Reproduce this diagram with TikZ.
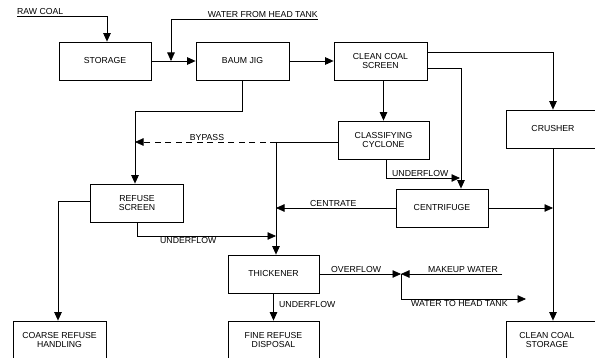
\documentclass[tikz,border=0pt]{standalone}
\usepackage{fontspec}
\setmainfont{Liberation Sans}
\usetikzlibrary{arrows.meta}
\newcommand\lblfont{\fontsize{8.7}{9}\selectfont}
\begin{document}
\begin{tikzpicture}[x=1pt,y=-1pt,
  box/.style={draw, line width=0.8pt, minimum height=38pt, inner sep=0pt, align=center, font=\lblfont},
  flow/.style={line width=0.7pt, -{Triangle[length=8.5pt,width=7.5pt]}},
  plain/.style={line width=0.7pt},
  lbl/.style={font=\lblfont, inner sep=0pt, anchor=base west}]
\clip (0,0) rectangle (595,358);
\fill[white] (0,0) rectangle (595,358);
% boxes
\node[box, minimum width=92pt] (storage) at (105,61) {STORAGE};
\node[box, minimum width=93pt] (baum) at (242.5,61) {BAUM JIG};
\node[box, minimum width=93pt] (ccs) at (380.5,61) {CLEAN COAL\\SCREEN};
\node[box, minimum width=91pt] (cyclone) at (383.5,140) {CLASSIFYING\\CYCLONE};
\node[box, minimum width=94pt] (crusher) at (553,129) {CRUSHER};
\node[box, minimum width=92pt] (centrifuge) at (442,208) {CENTRIFUGE};
\node[box, minimum width=93pt] (refuse) at (137,203) {REFUSE\\SCREEN};
\node[box, minimum width=91pt] (thick) at (273.5,274) {THICKENER};
\node[box, minimum width=93pt] (coarse) at (59.5,340) {COARSE REFUSE\\HANDLING};
\node[box, minimum width=91pt] (fine) at (273.5,340) {FINE REFUSE\\DISPOSAL};
\node[box, minimum width=94pt] (ccstor) at (553,340) {};
\node[font=\lblfont, align=center, inner sep=0pt] (ccstortxt) at (547,340) {CLEAN COAL\\STORAGE};
% coordinates
\coordinate (rc) at (17,16.5);
\coordinate (wt) at (318,19.5);
\coordinate (wjoin) at (171,61);
\coordinate (bj) at (276,142);
\coordinate (bypend) at (135,142);
\coordinate (cu) at (460,178);
\coordinate (ru) at (276,236);
\coordinate (jn) at (401,274);
\coordinate (mw) at (502,274);
\coordinate (wh) at (526,299);
% connectors
\draw[flow] (rc) -| ([xshift=2pt]storage.north);
\draw[flow] (wt) -| (wjoin);
\draw[flow] (storage) -- (baum);
\draw[flow] (baum) -- (ccs);
\draw[flow] (baum.south) -- ++(0,31) -| ([xshift=-2pt]refuse.north);
\draw[flow] (cyclone.north |- ccs.south) -- (cyclone.north);
\draw[flow] ([yshift=9pt]ccs.east) -| (crusher.north);
\draw[flow] ([yshift=-7pt]ccs.east) -| ([xshift=19pt]centrifuge.north);
\draw[plain] ([yshift=-2pt]cyclone.west) -- (bj);
\draw[flow, dash pattern=on 6pt off 4.5pt] (bj) -- (bypend);
\draw[flow] ([xshift=2.5pt]cyclone.south) |- (cu);
\draw[flow] (centrifuge.west) -- (centrifuge.west -| bj);
\draw[flow] (centrifuge.east) -- (centrifuge.east -| crusher.south);
\draw[flow] (crusher.south) -- (ccstor.north);
\draw[flow] (bj) -- (bj |- thick.north);
\draw[flow] (refuse.south) |- (ru);
\draw[flow] ([yshift=2pt]refuse.west) -| ([xshift=-1.5pt]coarse.north);
\draw[flow] (thick.south) -- (fine.north);
\draw[flow] (thick.east) -- (jn);
\draw[flow] (mw) -- (jn);
\draw[flow] (jn) |- (wh);
% labels
\node[lbl] (l1) at (17,15) {RAW COAL};
\node[lbl, anchor=base east] (l2) at (318,18) {WATER FROM HEAD TANK};
\node[lbl, anchor=base] (l3) at (207,141) {BYPASS};
\node[lbl] (l4) at (392,177) {UNDERFLOW};
\node[lbl] (l5) at (310,207) {CENTRATE};
\node[lbl] (l6) at (160,244) {UNDERFLOW};
\node[lbl] (l7) at (279,308) {UNDERFLOW};
\node[lbl] (l8) at (331,272.5) {OVERFLOW};
\node[lbl] (l9) at (428,272.5) {MAKEUP WATER};
\node[lbl] (l10) at (411,307) {WATER TO HEAD TANK};
\end{tikzpicture}
\end{document}
